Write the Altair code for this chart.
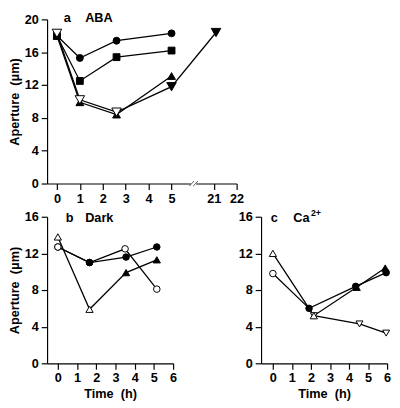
import altair as alt
import pandas as pd

# ---------------- data ----------------
# Panel a: ABA (time in h, aperture in um)
a_circle_t = [0, 1, 2.6, 5]
a_circle_y = [18.0, 15.3, 17.4, 18.3]
a_square_t = [0, 1, 2.6, 5]
a_square_y = [18.0, 12.5, 15.4, 16.2]
a_up_t = [0, 1, 2.6, 5]
a_up_y = [18.0, 9.9, 8.4, 13.1]
a_down_t = [0, 1, 2.6, 5, 21.1]
a_down_y = [18.3, 10.2, 8.7, 11.8, 18.4]
a_down_open = [True, True, True, False, False]
a_xtick_labels = [0, 1, 2, 3, 4, 5, 21, 22]
a_yticks = [0, 4, 8, 12, 16, 20]

# Panel b: Dark
b_tri_t = [0, 1.65, 3.55, 5.15]
b_tri_y = [13.8, 5.9, 9.9, 11.3]
b_tri_open = [True, True, False, False]
b_cf_t = [0, 1.65, 3.55, 5.15]
b_cf_y = [12.7, 11.0, 11.6, 12.7]
b_cf_open = [True, False, False, False]
b_co_t = [0, 1.65, 3.5, 5.15]
b_co_y = [12.7, 11.0, 12.5, 8.1]
b_co_open = [True, False, True, True]

# Panel c: Ca2+
c_tri_t = [0, 2.15, 4.4, 5.9]
c_tri_y = [12.0, 5.2, 8.3, 10.4]
c_tri_open = [True, True, False, False]
c_circ_t = [0, 1.9, 4.35, 5.95]
c_circ_y = [9.8, 6.0, 8.4, 9.9]
c_circ_open = [True, False, False, False]
c_down_t = [2.15, 4.55, 5.95]
c_down_y = [5.2, 4.3, 3.3]
c_down_open = [True, True, True]

bc_xticks = [0, 1, 2, 3, 4, 5, 6]
bc_yticks = [0, 4, 8, 12, 16]

# axis break in panel a: hours after the break are shifted left
BREAK_SHIFT = 14.16


def series(name, shape, size, t, y, open_flags=None):
    if open_flags is None:
        open_flags = [False] * len(t)
    return pd.DataFrame({
        "series": name, "shape": shape, "size": size,
        "t": t, "y": y,
        "fill": ["white" if o else "black" for o in open_flags],
    })


df_a = pd.concat([
    series("up", "triangle-up", 64, a_up_t, a_up_y),
    series("circle", "circle", 50, a_circle_t, a_circle_y),
    series("square", "square", 49, a_square_t, a_square_y),
    series("down", "triangle-down", 95, a_down_t, a_down_y, a_down_open),
], ignore_index=True)

df_b = pd.concat([
    series("cf", "circle", 45, b_cf_t, b_cf_y, b_cf_open),
    series("co", "circle", 45, b_co_t, b_co_y, b_co_open),
    series("tri", "triangle-up", 55, b_tri_t, b_tri_y, b_tri_open),
], ignore_index=True)

df_c = pd.concat([
    series("down", "triangle-down", 50, c_down_t, c_down_y, c_down_open),
    series("circ", "circle", 45, c_circ_t, c_circ_y, c_circ_open),
    series("tri", "triangle-up", 55, c_tri_t, c_tri_y, c_tri_open),
], ignore_index=True)

FONT = "Liberation Sans"
LBL = dict(labelFont=FONT, labelFontWeight="bold", labelFontSize=13,
           labelColor="black", labelOverlap=False, labelFlush=False)


def label(text, dx, dy, size=13):
    return alt.Chart(pd.DataFrame({"k": [0]})).mark_text(
        align="left", baseline="alphabetic", font=FONT, fontWeight="bold",
        fontSize=size, color="black"
    ).encode(x=alt.value(dx), y=alt.value(dy), text=alt.value(text))


def panel(df, xfield, xscale, xaxis, yscale, yaxis, w, h, texts, pre=None, extra=None):
    base = alt.Chart(df)
    if pre is not None:
        base = pre(base)
    x = alt.X(f"{xfield}:Q", scale=xscale, axis=xaxis)
    y = alt.Y("y:Q", scale=yscale, axis=yaxis)
    lines = base.mark_line(color="black", strokeWidth=1.3).encode(
        x=x, y=y, detail="series:N", order="t:Q")
    pts = base.mark_point(filled=True, stroke="black", strokeWidth=1, opacity=1).encode(
        x=x, y=y,
        shape=alt.Shape("shape:N", scale=None),
        fill=alt.Fill("fill:N", scale=None),
        size=alt.Size("size:Q", scale=None),
    )
    layers = [lines, pts]
    if extra is not None:
        layers += extra(x, y)
    return alt.layer(*layers, *texts).properties(width=w, height=h)


ytitle = "Aperture\u00a0\u00a0(\u03bcm)"
xtitle = "Time\u00a0\u00a0(h)"

a_tick_pos = [v if v <= 5 else v - BREAK_SHIFT for v in a_xtick_labels]
a_label_expr = f"datum.value > 6 ? toString(round(datum.value + {BREAK_SHIFT})) : toString(datum.value)"


def break_marks(x, y):
    gap = alt.Chart(pd.DataFrame({"xp": [5.84], "xp2": [6.08], "y": [0.0], "y2": [0.0]})).mark_rule(
        color="white", strokeWidth=3).encode(x=x, x2="xp2:Q", y=y, y2="y2:Q")
    slashes = alt.Chart(pd.DataFrame({"xp": [5.78, 5.95], "xp2": [5.98, 6.15],
                                      "y": [-0.3, -0.3], "y2": [0.3, 0.3]})).mark_rule(
        color="#555555", strokeWidth=1).encode(x=x, x2="xp2:Q", y=y, y2="y2:Q")
    return [gap, slashes]


pa = panel(
    df_a, "xp",
    alt.Scale(domain=[-0.43, 7.84], nice=False, zero=False),
    alt.Axis(values=a_tick_pos, labelExpr=a_label_expr, title=None, **LBL),
    alt.Scale(domain=[0, 20], nice=False),
    alt.Axis(values=a_yticks, title=ytitle, **LBL),
    194, 168,
    [label("a", 17, 3), label("ABA", 39, 3)],
    pre=lambda b: b.transform_calculate(
        xp=f"datum.t > 10 ? datum.t - {BREAK_SHIFT} : datum.t"),
    extra=break_marks,
)

pb = panel(
    df_b, "t",
    alt.Scale(domain=[-0.56, 6], nice=False, zero=False),
    alt.Axis(values=bc_xticks, title=xtitle, **LBL),
    alt.Scale(domain=[0, 16], nice=False),
    alt.Axis(values=bc_yticks, title=ytitle, **LBL),
    129, 150,
    [label("b", 19, 5), label("Dark", 39, 5)],
)

pc = panel(
    df_c, "t",
    alt.Scale(domain=[-0.62, 6], nice=False, zero=False),
    alt.Axis(values=bc_xticks, title=xtitle, **LBL),
    alt.Scale(domain=[0, 16], nice=False),
    alt.Axis(values=bc_yticks, title=None, **LBL),
    129, 150,
    [label("c", 10, 5), label("Ca", 33, 5), label("2+", 51, -1, size=9)],
)

chart = alt.vconcat(
    pa, alt.hconcat(pb, pc, spacing=62), spacing=4
).properties(padding=0).configure_axis(
    titleFont=FONT, titleFontWeight="bold", titleFontSize=13, titleColor="black",
    domainColor="black", tickColor="black", grid=False, tickSize=6,
    labelPadding=3, titlePadding=3, domainWidth=1.2, tickWidth=1.2,
).configure_view(stroke=None)

chart.save("out.html", embed_options={"renderer": "svg", "actions": False})
